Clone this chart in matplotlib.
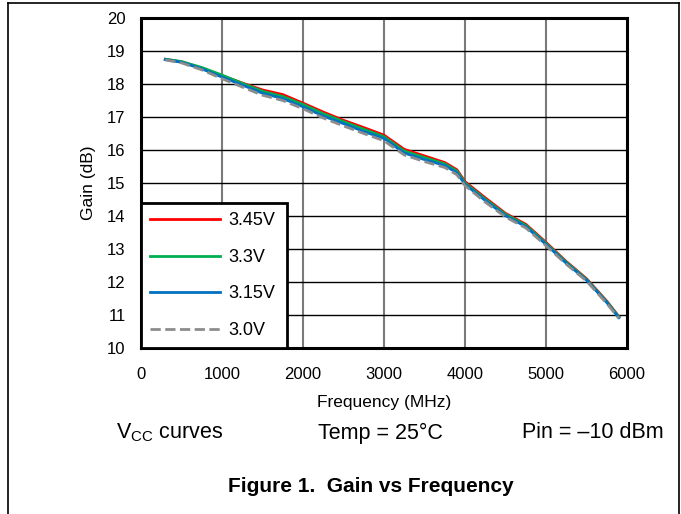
import numpy as np
import matplotlib
matplotlib.use("Agg")
import matplotlib.pyplot as plt
from matplotlib.lines import Line2D

plt.rcParams["font.family"] = ["Liberation Sans", "DejaVu Sans"]
plt.rcParams["mathtext.fontset"] = "custom"
plt.rcParams["mathtext.rm"] = "Liberation Sans"

# frequency points (MHz)
freq = [300, 500, 750, 1000, 1250, 1500, 1750, 2000, 2250, 2500, 2750, 3000,
        3250, 3500, 3750, 3900, 4000, 4250, 4500, 4750, 5000, 5250, 5500, 5750, 5900]

# gain (dB)
gain_345 = [18.75, 18.67, 18.48, 18.25, 18.03, 17.82, 17.68, 17.42, 17.15, 16.90, 16.68, 16.45,
            16.02, 15.82, 15.62, 15.40, 15.04, 14.55, 14.08, 13.75, 13.20, 12.62, 12.10, 11.42, 10.95]
gain_330 = [18.75, 18.68, 18.50, 18.27, 18.02, 17.78, 17.62, 17.38, 17.10, 16.86, 16.63, 16.40,
            15.97, 15.77, 15.58, 15.36, 15.00, 14.51, 14.05, 13.72, 13.17, 12.60, 12.08, 11.40, 10.94]
gain_315 = [18.74, 18.66, 18.46, 18.21, 17.97, 17.72, 17.56, 17.31, 17.03, 16.80, 16.56, 16.35,
            15.91, 15.71, 15.53, 15.31, 14.96, 14.47, 14.01, 13.68, 13.14, 12.57, 12.06, 11.38, 10.92]
gain_300 = [18.73, 18.64, 18.43, 18.16, 17.91, 17.66, 17.50, 17.25, 16.97, 16.73, 16.50, 16.28,
            15.85, 15.65, 15.47, 15.25, 14.92, 14.42, 13.97, 13.64, 13.10, 12.54, 12.03, 11.35, 10.90]

labels = ["3.45V", "3.3V", "3.15V", "3.0V"]
colors = ["#ff0000", "#00b050", "#0070c0", "#8c8c8c"]

fig = plt.figure(figsize=(6.81, 5.14), dpi=100)
ax = fig.add_axes([141 / 681, 1 - 348 / 514, 486 / 681, 330 / 514])

series = [gain_345, gain_330, gain_315, gain_300]
for g, lab, c in zip(series, labels, colors):
    ls = "--" if lab == "3.0V" else "-"
    ax.plot(freq, g, color=c, lw=2, ls=ls, label=lab, zorder=3)

ax.set_xlim(0, 6000)
ax.set_ylim(10, 20)
ax.set_xticks(np.arange(0, 6001, 1000))
ax.set_yticks(np.arange(10, 21, 1))
ax.tick_params(length=0, labelsize=12)
ax.tick_params(axis="x", pad=14)
ax.tick_params(axis="y", pad=11)

for x in range(1000, 6000, 1000):
    ax.axvline(x, color="#7a7a7a", lw=1.5, zorder=1)
for y in range(11, 20):
    ax.axhline(y, color="black", lw=1.0, zorder=1)

for s in ax.spines.values():
    s.set_linewidth(2.2)
    s.set_color("black")

ax.set_xlabel("Frequency (MHz)", fontsize=12.5, labelpad=9)
ax.set_ylabel("Gain (dB)", fontsize=12.5, labelpad=8)

leg = ax.legend(loc="lower left", bbox_to_anchor=(0, 0, 0.30, 0.44), mode="expand",
                borderaxespad=0, fontsize=13, handlelength=3.9, handletextpad=0.45,
                labelspacing=1.08, borderpad=0.5, fancybox=False, framealpha=1,
                edgecolor="black")
leg.get_frame().set_linewidth(2)
leg.set_zorder(5)

# captions below the chart
fig.text(116 / 681, 1 - 433 / 514, r"V$_{\mathregular{CC}}$ curves", fontsize=15.5, va="center", ha="left")
fig.text(380 / 681, 1 - 433 / 514, "Temp = 25°C", fontsize=15.5, va="center", ha="center")
fig.text(664 / 681, 1 - 433 / 514, "Pin = \u201310 dBm", fontsize=15.5, va="center", ha="right")
fig.text(371 / 681, 1 - 486 / 514, "Figure 1.  Gain vs Frequency", fontsize=15,
         fontweight="bold", va="center", ha="center")

# outer page frame
fig.add_artist(Line2D([8 / 681, 8 / 681], [0, 1 - 3 / 514], color="black", lw=1.2))
fig.add_artist(Line2D([8 / 681, 679 / 681], [1 - 3 / 514, 1 - 3 / 514], color="black", lw=1.2))
fig.add_artist(Line2D([679 / 681, 679 / 681], [0, 1 - 3 / 514], color="black", lw=1.2))

fig.savefig("out.png", dpi=100)
